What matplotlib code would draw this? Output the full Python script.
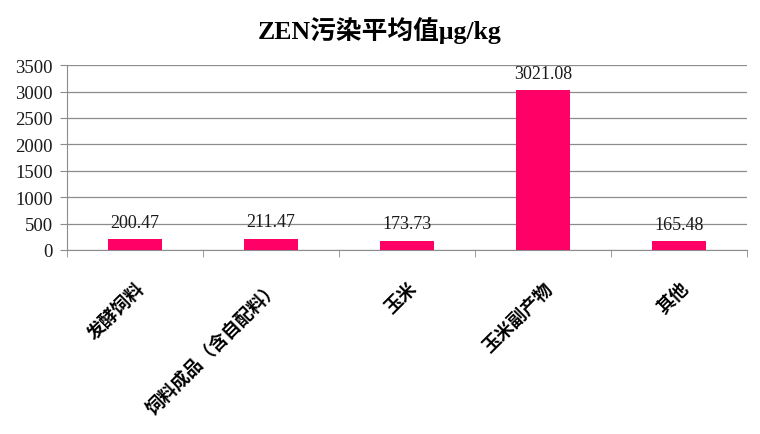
import numpy as np
import matplotlib.pyplot as plt

# data
categories = ["发酵饲料", "饲料成品（含自配料）", "玉米", "玉米副产物", "其他"]
values = [200.47, 211.47, 173.73, 3021.08, 165.48]
yticks = [0, 500, 1000, 1500, 2000, 2500, 3000, 3500]

fig = plt.figure(figsize=(7.6, 4.35), dpi=100)
ax = fig.add_axes([0.088, 0.423, 0.895, 0.425])

x = np.arange(len(categories))
bars = ax.bar(x, values, width=0.4, color="#FF0066", zorder=3)

for xi, v in zip(x, values):
    ax.annotate("%.2f" % v, (xi, v), xytext=(0, 6), textcoords="offset points",
                ha="center", va="bottom", fontsize=13,
                family="Liberation Serif", color="#1a1a1a")

ax.set_xlim(-0.5, len(categories) - 0.5)
ax.set_ylim(0, 3500)
ax.set_yticks(yticks)
ax.set_yticklabels([str(t) for t in yticks], family="Liberation Serif",
                   fontsize=13.5, color="#1a1a1a")
ax.yaxis.grid(True, color="#8c8c8c", linewidth=0.9, zorder=0)

# category labels at centers, tick marks at boundaries
ax.set_xticks(x)
ax.set_xticklabels(categories, rotation=45, ha="right", va="top",
                   rotation_mode="anchor", family="Noto Sans CJK SC",
                   fontweight="bold", fontsize=13)
ax.tick_params(axis="x", length=0, pad=20)
ax.set_xticks(np.arange(len(categories) + 1) - 0.5, minor=True)
ax.tick_params(axis="x", which="minor", length=5, color="#8c8c8c")
ax.tick_params(axis="y", length=5, color="#8c8c8c", pad=5)

for s in ["top", "right"]:
    ax.spines[s].set_visible(False)
for s in ["left", "bottom"]:
    ax.spines[s].set_color("#8c8c8c")

fig.text(0.5, 0.93, "ZEN污染平均值μg/kg", ha="center", va="center",
         fontsize=18.5, fontweight="bold",
         family=["Liberation Serif", "Noto Sans CJK SC"])

fig.savefig("out.png")
